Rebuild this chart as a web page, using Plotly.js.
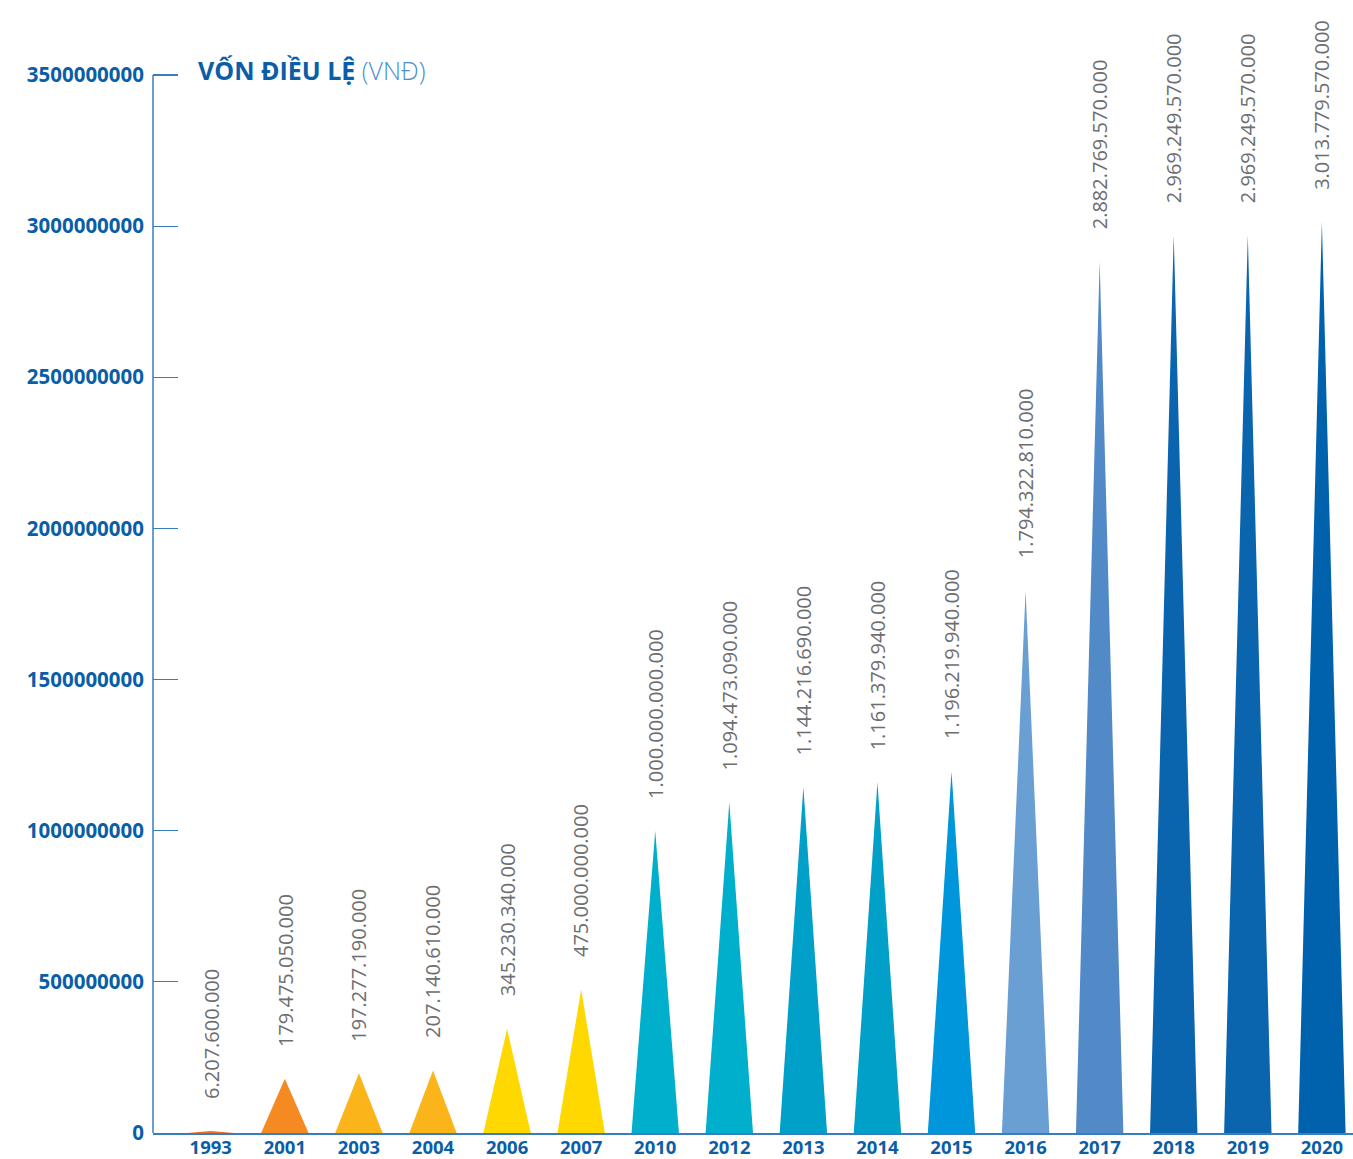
<!DOCTYPE html>
<html>
<head>
<meta charset="utf-8">
<script src="https://cdn.plot.ly/plotly-3.0.1.min.js"></script>
<style>html,body{margin:0;padding:0;background:#fff}#chart{width:1353px;height:1159px}</style>
</head>
<body>
<div id="chart"></div>
<script>
const years = ["1993","2001","2003","2004","2006","2007","2010","2012","2013","2014","2015","2016","2017","2018","2019","2020"];
const values = [6207600, 179475050, 197277190, 207140610, 345230340, 475000000, 1000000000, 1094473090, 1144216690, 1161379940, 1196219940, 1794322810, 2882769570, 2969249570, 2969249570, 3013779570];
const valueLabels = ["6.207.600.000","179.475.050.000","197.277.190.000","207.140.610.000","345.230.340.000","475.000.000.000","1.000.000.000.000","1.094.473.090.000","1.144.216.690.000","1.161.379.940.000","1.196.219.940.000","1.794.322.810.000","2.882.769.570.000","2.969.249.570.000","2.969.249.570.000","3.013.779.570.000"];
const colors = ["#f26f21","#f58a22","#fbb41a","#fbb41a","#ffd800","#ffd800","#00afcc","#00afcc","#00a0c8","#00a0c8","#0096db","#6a9fd4","#5289c7","#0a64ae","#0a64ae","#0062ad"];
const yTicks = [0,500000000,1000000000,1500000000,2000000000,2500000000,3000000000,3500000000];

const halfW = 0.32;
const traces = years.map((y, i) => ({
  type: 'scatter',
  mode: 'lines',
  x: [i - halfW, i, i + halfW, i - halfW],
  y: [0, values[i], 0, 0],
  fill: 'toself',
  fillcolor: colors[i],
  line: {width: 0, color: colors[i]},
  hoverinfo: 'skip',
  showlegend: false
}));

const annotations = years.map((y, i) => ({
  x: i, y: values[i], xref: 'x', yref: 'y',
  text: valueLabels[i], showarrow: false, textangle: -90,
  xanchor: 'center', yanchor: 'bottom', yshift: 30,
  font: {family: 'Open Sans, sans-serif', size: 20, color: '#6d6e71'}
}));
annotations.push({
  xref: 'paper', yref: 'paper', x: 0.036, y: 0.947, xanchor: 'left', yanchor: 'middle',
  showarrow: false,
  text: "<b>VỐN ĐIỀU LỆ</b> <span style='color:#4a90d0;font-weight:300'>(VNĐ)</span>",
  font: {family: 'Open Sans, sans-serif', size: 25, color: '#0a5ea8'}
});

const layout = {
  width: 1353, height: 1159,
  margin: {l: 153, r: 0, t: 10, b: 26},
  paper_bgcolor: '#fff', plot_bgcolor: '#fff',
  xaxis: {
    range: [-0.78, 15.42],
    tickmode: 'array', tickvals: years.map((y, i) => i), ticktext: years,
    showgrid: false, zeroline: false,
    showline: true, linecolor: '#3a7cc0', linewidth: 1.5,
    ticks: '',
    ticklabelstandoff: -3,
    tickfont: {family: 'Open Sans, sans-serif', size: 18.5, color: '#0a5ea8', weight: 'bold'}
  },
  yaxis: {
    range: [0, 3.5e9 * 1123 / 1058],
    tickmode: 'array', tickvals: yTicks, ticktext: yTicks.map(String),
    showgrid: false, zeroline: false,
    showline: false,
    ticks: 'inside', ticklen: 25, tickcolor: '#3a7cc0', tickwidth: 1.2,
    ticklabelstandoff: 8,
    tickfont: {family: 'Open Sans, sans-serif', size: 20.5, color: '#0a5ea8', weight: 'bold'}
  },
  shapes: [{
    type: 'line', xref: 'paper', yref: 'y',
    x0: 0, x1: 0, y0: 0, y1: yTicks[yTicks.length - 1],
    line: {color: '#3a7cc0', width: 1.5}
  }],
  annotations: annotations
};

Plotly.newPlot('chart', traces, layout, {staticPlot: true, displayModeBar: false});
</script>
</body>
</html>
